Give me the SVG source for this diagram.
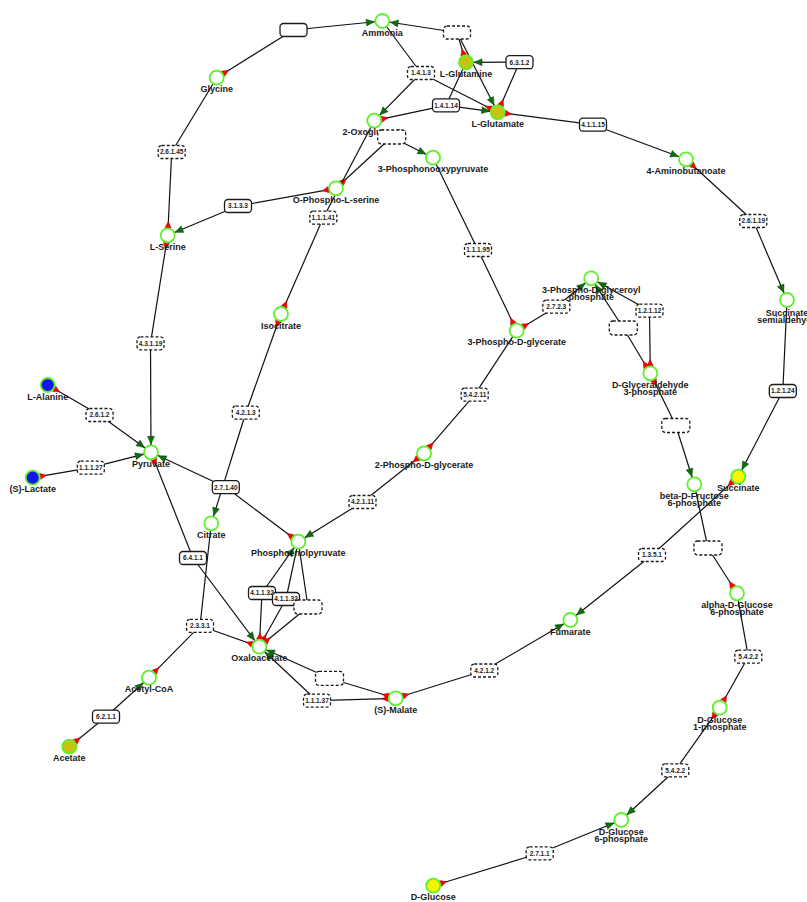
<svg xmlns="http://www.w3.org/2000/svg" width="807" height="902" viewBox="0 0 807 902">
<style>
.e{fill:none;stroke:#111;stroke-width:1.2}
.p{marker-end:url(#prod)}
.s{marker-start:url(#sub)}
.cpd circle{fill:#fff;stroke:#5ef02a;stroke-width:1.8}
.cpd text{font-family:"Liberation Sans",Arial,sans-serif;font-size:9px;font-weight:bold;fill:#1a1a1a;text-anchor:middle}
.enz rect{fill:#fff;stroke:#1a1a1a;stroke-width:1.3}
.enz.d rect{stroke-dasharray:3,2}
.enz text{font-family:"Liberation Sans",Arial,sans-serif;font-size:6.5px;font-weight:bold;fill:#222;text-anchor:middle}
.olive{fill:#c8c214 !important}
.yel{fill:#f5f500 !important}
.blu{fill:#1414f0 !important}
</style>
<defs>
<marker id="prod" markerUnits="userSpaceOnUse" markerWidth="10" markerHeight="8" refX="16" refY="3.5" orient="auto" overflow="visible"><path d="M0,0 L8,3.5 L0,7 z" fill="#0b6e0b" stroke="#063806" stroke-width="0.4"/></marker>
<marker id="sub" markerUnits="userSpaceOnUse" markerWidth="8" markerHeight="8" refX="-7.5" refY="3.2" orient="auto" overflow="visible"><path d="M0,0 L6.5,3.2 L0,6.4 z" fill="#f00" stroke="#700" stroke-width="0.3"/></marker>
</defs>
<g id="connectors">
<path class="e p" d="M293.3,30 L382.3,21"/>
<path class="e p" d="M457,32.5 L382.3,21"/>
<path class="e p" d="M457,32.5 L497.7,112.3"/>
<path class="e p" d="M519.5,62.2 L466,62.3"/>
<path class="e p" d="M421,73 L374.3,120.7"/>
<path class="e p" d="M446,105.3 L497.7,112.3"/>
<path class="e p" d="M593,124.7 L686,159.3"/>
<path class="e p" d="M753.3,221 L787,300"/>
<path class="e p" d="M782.8,391 L738.3,476.7"/>
<path class="e p" d="M652,555 L570.3,620"/>
<path class="e p" d="M391.7,137 L433,157.7"/>
<path class="e p" d="M238,206 L167.7,235.3"/>
<path class="e p" d="M556.3,306.7 L591.2,278.3"/>
<path class="e p" d="M649.5,310.7 L591.2,278.3"/>
<path class="e p" d="M623.3,328 L591.2,278.3"/>
<path class="e p" d="M675.8,425.5 L694.3,484.3"/>
<path class="e p" d="M675.3,770.3 L621.3,820"/>
<path class="e p" d="M539.7,853.3 L621.3,820"/>
<path class="e p" d="M362.5,502 L298.3,541.7"/>
<path class="e p" d="M150.5,343.3 L151,452.3"/>
<path class="e p" d="M99.5,415 L151,452.3"/>
<path class="e p" d="M90.8,467.7 L151,452.3"/>
<path class="e p" d="M225.8,487.2 L151,452.3"/>
<path class="e p" d="M193,558 L259.3,646.7"/>
<path class="e p" d="M245.8,412.7 L211.3,523.3"/>
<path class="e p" d="M106,716.7 L149,677.7"/>
<path class="e p" d="M262,593 L298.3,541.7"/>
<path class="e p" d="M329.5,678.3 L259.3,646.7"/>
<path class="e p" d="M317,700.7 L259.3,646.7"/>
<path class="e p" d="M484.3,670.5 L570.3,620"/>
<path class="e s" d="M216.7,77.7 L293.3,30"/>
<path class="e s" d="M167.7,235.3 L171.7,152"/>
<path class="e s" d="M466,62.3 L457,32.5"/>
<path class="e s" d="M497.7,112.3 L519.5,62.2"/>
<path class="e s" d="M497.7,112.3 L421,73"/>
<path class="e s" d="M374.3,120.7 L446,105.3"/>
<path class="e s" d="M497.7,112.3 L593,124.7"/>
<path class="e s" d="M686,159.3 L753.3,221"/>
<path class="e s" d="M738.3,476.7 L652,555"/>
<path class="e s" d="M336,188.3 L391.7,137"/>
<path class="e s" d="M336,188.3 L238,206"/>
<path class="e s" d="M281,314 L323.3,217.7"/>
<path class="e s" d="M516.7,330.7 L478,250"/>
<path class="e s" d="M516.7,330.7 L556.3,306.7"/>
<path class="e s" d="M650.3,373.3 L649.5,310.7"/>
<path class="e s" d="M650.3,373.3 L623.3,328"/>
<path class="e s" d="M650.3,373.3 L675.8,425.5"/>
<path class="e s" d="M737,593.3 L708,548"/>
<path class="e s" d="M719.7,707.7 L748.3,656.7"/>
<path class="e s" d="M719.7,707.7 L675.3,770.3"/>
<path class="e s" d="M433.3,885.7 L539.7,853.3"/>
<path class="e s" d="M424,453.3 L474.7,394.7"/>
<path class="e s" d="M424,453.3 L362.5,502"/>
<path class="e s" d="M167.7,235.3 L150.5,343.3"/>
<path class="e s" d="M47.7,385 L99.5,415"/>
<path class="e s" d="M32.7,477.7 L90.8,467.7"/>
<path class="e s" d="M298.3,541.7 L225.8,487.2"/>
<path class="e s" d="M151,452.3 L193,558"/>
<path class="e s" d="M281,314 L245.8,412.7"/>
<path class="e s" d="M259.3,646.7 L200,625.8"/>
<path class="e s" d="M149,677.7 L200,625.8"/>
<path class="e s" d="M69.3,746.7 L106,716.7"/>
<path class="e s" d="M259.3,646.7 L262,593"/>
<path class="e s" d="M259.3,646.7 L286,599"/>
<path class="e s" d="M259.3,646.7 L308,607"/>
<path class="e s" d="M395.7,698.3 L329.5,678.3"/>
<path class="e s" d="M395.7,698.3 L317,700.7"/>
<path class="e s" d="M395.7,698.3 L484.3,670.5"/>
<path class="e" d="M171.7,152 L216.7,77.7"/>
<path class="e" d="M421,73 L382.3,21"/>
<path class="e" d="M446,105.3 L466,62.3"/>
<path class="e" d="M782.8,391 L787,300"/>
<path class="e" d="M323.3,217.7 L374.3,120.7"/>
<path class="e" d="M478,250 L433,157.7"/>
<path class="e" d="M708,548 L694.3,484.3"/>
<path class="e" d="M748.3,656.7 L737,593.3"/>
<path class="e" d="M474.7,394.7 L516.7,330.7"/>
<path class="e" d="M200,625.8 L211.3,523.3"/>
<path class="e" d="M286,599 L298.3,541.7"/>
<path class="e" d="M308,607 L298.3,541.7"/>
</g>
<g id="n-ammonia" class="cpd"><circle cx="382.3" cy="21" r="7"/><text x="382.3" y="35.6">Ammonia</text></g>
<g id="n-glycine" class="cpd"><circle cx="216.7" cy="77.7" r="7"/><text x="216.7" y="92.3">Glycine</text></g>
<g id="n-glutamine" class="cpd"><circle class="olive" cx="466" cy="62.3" r="7"/><text x="466" y="76.9">L-Glutamine</text></g>
<g id="n-glutamate" class="cpd"><circle class="olive" cx="497.7" cy="112.3" r="7"/><text x="497.7" y="126.9">L-Glutamate</text></g>
<g id="n-oxoglutarate" class="cpd"><circle cx="374.3" cy="120.7" r="7"/><text x="374.3" y="135.3">2-Oxoglutarate</text></g>
<g id="n-phosphonooxypyruvate" class="cpd"><circle cx="433" cy="157.7" r="7"/><text x="433" y="172.3">3-Phosphonooxypyruvate</text></g>
<g id="n-ophosphoserine" class="cpd"><circle cx="336" cy="188.3" r="7"/><text x="336" y="202.9">O-Phospho-L-serine</text></g>
<g id="n-aminobutanoate" class="cpd"><circle cx="686" cy="159.3" r="7"/><text x="686" y="173.9">4-Aminobutanoate</text></g>
<g id="n-serine" class="cpd"><circle cx="167.7" cy="235.3" r="7"/><text x="167.7" y="249.9">L-Serine</text></g>
<g id="n-succsemialdehyde" class="cpd"><circle cx="787" cy="300" r="7"/><text x="787" y="315.5">Succinate</text><text x="787" y="322.5">semialdehyde</text></g>
<g id="n-bpg" class="cpd"><circle cx="591.2" cy="278.3" r="7"/><text x="591.2" y="293">3-Phospho-D-glyceroyl</text><text x="591.2" y="300">phosphate</text></g>
<g id="n-isocitrate" class="cpd"><circle cx="281" cy="314" r="7"/><text x="281" y="328.6">Isocitrate</text></g>
<g id="n-3pg" class="cpd"><circle cx="516.7" cy="330.7" r="7"/><text x="516.7" y="345.3">3-Phospho-D-glycerate</text></g>
<g id="n-g3p" class="cpd"><circle cx="650.3" cy="373.3" r="7"/><text x="650.3" y="388.3">D-Glyceraldehyde</text><text x="650.3" y="395.3">3-phosphate</text></g>
<g id="n-alanine" class="cpd"><circle class="blu" cx="47.7" cy="385" r="7"/><text x="47.7" y="399.6">L-Alanine</text></g>
<g id="n-2pg" class="cpd"><circle cx="424" cy="453.3" r="7"/><text x="424" y="467.9">2-Phospho-D-glycerate</text></g>
<g id="n-pyruvate" class="cpd"><circle cx="151" cy="452.3" r="7"/><text x="151" y="466.9">Pyruvate</text></g>
<g id="n-lactate" class="cpd"><circle class="blu" cx="32.7" cy="477.7" r="7"/><text x="32.7" y="492.3">(S)-Lactate</text></g>
<g id="n-succinate" class="cpd"><circle class="yel" cx="738.3" cy="476.7" r="7"/><text x="738.3" y="491.3">Succinate</text></g>
<g id="n-f6p" class="cpd"><circle cx="694.3" cy="484.3" r="7"/><text x="694.3" y="499.3">beta-D-Fructose</text><text x="694.3" y="506.3">6-phosphate</text></g>
<g id="n-citrate" class="cpd"><circle cx="211.3" cy="523.3" r="7"/><text x="211.3" y="537.9">Citrate</text></g>
<g id="n-pep" class="cpd"><circle cx="298.3" cy="541.7" r="7"/><text x="298.3" y="556.3">Phosphoenolpyruvate</text></g>
<g id="n-ag6p" class="cpd"><circle cx="737" cy="593.3" r="7"/><text x="737" y="608.3">alpha-D-Glucose</text><text x="737" y="615.3">6-phosphate</text></g>
<g id="n-fumarate" class="cpd"><circle cx="570.3" cy="620" r="7"/><text x="570.3" y="634.6">Fumarate</text></g>
<g id="n-oxaloacetate" class="cpd"><circle cx="259.3" cy="646.7" r="7"/><text x="259.3" y="661.3">Oxaloacetate</text></g>
<g id="n-acetylcoa" class="cpd"><circle cx="149" cy="677.7" r="7"/><text x="149" y="692.3">Acetyl-CoA</text></g>
<g id="n-malate" class="cpd"><circle cx="395.7" cy="698.3" r="7"/><text x="395.7" y="712.9">(S)-Malate</text></g>
<g id="n-g1p" class="cpd"><circle cx="719.7" cy="707.7" r="7"/><text x="719.7" y="722.7">D-Glucose</text><text x="719.7" y="729.7">1-phosphate</text></g>
<g id="n-acetate" class="cpd"><circle class="olive" cx="69.3" cy="746.7" r="7"/><text x="69.3" y="761.3">Acetate</text></g>
<g id="n-g6p" class="cpd"><circle cx="621.3" cy="820" r="7"/><text x="621.3" y="835">D-Glucose</text><text x="621.3" y="842">6-phosphate</text></g>
<g id="n-glucose" class="cpd"><circle class="yel" cx="433.3" cy="885.7" r="7"/><text x="433.3" y="900.3">D-Glucose</text></g>
<g id="e-b1" class="enz"><rect x="280" y="23.5" width="27" height="13" rx="3.5"/></g>
<g id="e-b2" class="enz d"><rect x="443.5" y="26" width="27" height="13" rx="3.5"/></g>
<g id="e-6312" class="enz"><rect x="506" y="55.7" width="27" height="13" rx="3.5"/><text x="519.5" y="64.5">6.3.1.2</text></g>
<g id="e-1413" class="enz d"><rect x="407.5" y="66.5" width="27" height="13" rx="3.5"/><text x="421" y="75.3">1.4.1.3</text></g>
<g id="e-14114" class="enz"><rect x="432.5" y="98.8" width="27" height="13" rx="3.5"/><text x="446" y="107.6">1.4.1.14</text></g>
<g id="e-26145" class="enz d"><rect x="158.2" y="145.5" width="27" height="13" rx="3.5"/><text x="171.7" y="154.3">2.6.1.45</text></g>
<g id="e-b3" class="enz d"><rect x="377.7" y="130" width="28" height="14" rx="3.5"/></g>
<g id="e-41115" class="enz"><rect x="579.5" y="118.2" width="27" height="13" rx="3.5"/><text x="593" y="127">4.1.1.15</text></g>
<g id="e-3133" class="enz"><rect x="224.5" y="199.5" width="27" height="13" rx="3.5"/><text x="238" y="208.3">3.1.3.3</text></g>
<g id="e-11141" class="enz d"><rect x="309.8" y="211.2" width="27" height="13" rx="3.5"/><text x="323.3" y="220">1.1.1.41</text></g>
<g id="e-26119" class="enz d"><rect x="739.8" y="214.5" width="27" height="13" rx="3.5"/><text x="753.3" y="223.3">2.6.1.19</text></g>
<g id="e-11195" class="enz d"><rect x="464.5" y="243.5" width="27" height="13" rx="3.5"/><text x="478" y="252.3">1.1.1.95</text></g>
<g id="e-2723" class="enz d"><rect x="542.8" y="300.2" width="27" height="13" rx="3.5"/><text x="556.3" y="309">2.7.2.3</text></g>
<g id="e-12112" class="enz d"><rect x="636" y="304.2" width="27" height="13" rx="3.5"/><text x="649.5" y="313">1.2.1.12</text></g>
<g id="e-b4" class="enz d"><rect x="609.3" y="321" width="28" height="14" rx="3.5"/></g>
<g id="e-43119" class="enz d"><rect x="137" y="336.8" width="27" height="13" rx="3.5"/><text x="150.5" y="345.6">4.3.1.19</text></g>
<g id="e-54211" class="enz d"><rect x="461.2" y="388.2" width="27" height="13" rx="3.5"/><text x="474.7" y="397">5.4.2.11</text></g>
<g id="e-12124" class="enz"><rect x="769.3" y="384.5" width="27" height="13" rx="3.5"/><text x="782.8" y="393.3">1.2.1.24</text></g>
<g id="e-4213" class="enz d"><rect x="232.3" y="406.2" width="27" height="13" rx="3.5"/><text x="245.8" y="415">4.2.1.3</text></g>
<g id="e-2612" class="enz d"><rect x="86" y="408.5" width="27" height="13" rx="3.5"/><text x="99.5" y="417.3">2.6.1.2</text></g>
<g id="e-b5" class="enz d"><rect x="661.8" y="418.5" width="28" height="14" rx="3.5"/></g>
<g id="e-11127" class="enz d"><rect x="77.3" y="461.2" width="27" height="13" rx="3.5"/><text x="90.8" y="470">1.1.1.27</text></g>
<g id="e-27140" class="enz"><rect x="212.3" y="480.7" width="27" height="13" rx="3.5"/><text x="225.8" y="489.5">2.7.1.40</text></g>
<g id="e-42111" class="enz d"><rect x="349" y="495.5" width="27" height="13" rx="3.5"/><text x="362.5" y="504.3">4.2.1.11</text></g>
<g id="e-b6" class="enz d"><rect x="694" y="541" width="28" height="14" rx="3.5"/></g>
<g id="e-1351" class="enz d"><rect x="638.5" y="548.5" width="27" height="13" rx="3.5"/><text x="652" y="557.3">1.3.5.1</text></g>
<g id="e-6411" class="enz"><rect x="179.5" y="551.5" width="27" height="13" rx="3.5"/><text x="193" y="560.3">6.4.1.1</text></g>
<g id="e-41132a" class="enz"><rect x="248.5" y="586.5" width="27" height="13" rx="3.5"/><text x="262" y="595.3">4.1.1.32</text></g>
<g id="e-41132b" class="enz"><rect x="272.5" y="592.5" width="27" height="13" rx="3.5"/><text x="286" y="601.3">4.1.1.32</text></g>
<g id="e-b7" class="enz d"><rect x="294" y="600" width="28" height="14" rx="3.5"/></g>
<g id="e-2331" class="enz d"><rect x="186.5" y="619.3" width="27" height="13" rx="3.5"/><text x="200" y="628.1">2.3.3.1</text></g>
<g id="e-5422a" class="enz d"><rect x="734.8" y="650.2" width="27" height="13" rx="3.5"/><text x="748.3" y="659">5.4.2.2</text></g>
<g id="e-4212" class="enz d"><rect x="470.8" y="664" width="27" height="13" rx="3.5"/><text x="484.3" y="672.8">4.2.1.2</text></g>
<g id="e-b8" class="enz d"><rect x="315.5" y="671.3" width="28" height="14" rx="3.5"/></g>
<g id="e-11137" class="enz d"><rect x="303.5" y="694.2" width="27" height="13" rx="3.5"/><text x="317" y="703">1.1.1.37</text></g>
<g id="e-6211" class="enz"><rect x="92.5" y="710.2" width="27" height="13" rx="3.5"/><text x="106" y="719">6.2.1.1</text></g>
<g id="e-5422b" class="enz d"><rect x="661.8" y="763.8" width="27" height="13" rx="3.5"/><text x="675.3" y="772.6">5.4.2.2</text></g>
<g id="e-2711" class="enz d"><rect x="526.2" y="846.8" width="27" height="13" rx="3.5"/><text x="539.7" y="855.6">2.7.1.1</text></g>
</svg>
